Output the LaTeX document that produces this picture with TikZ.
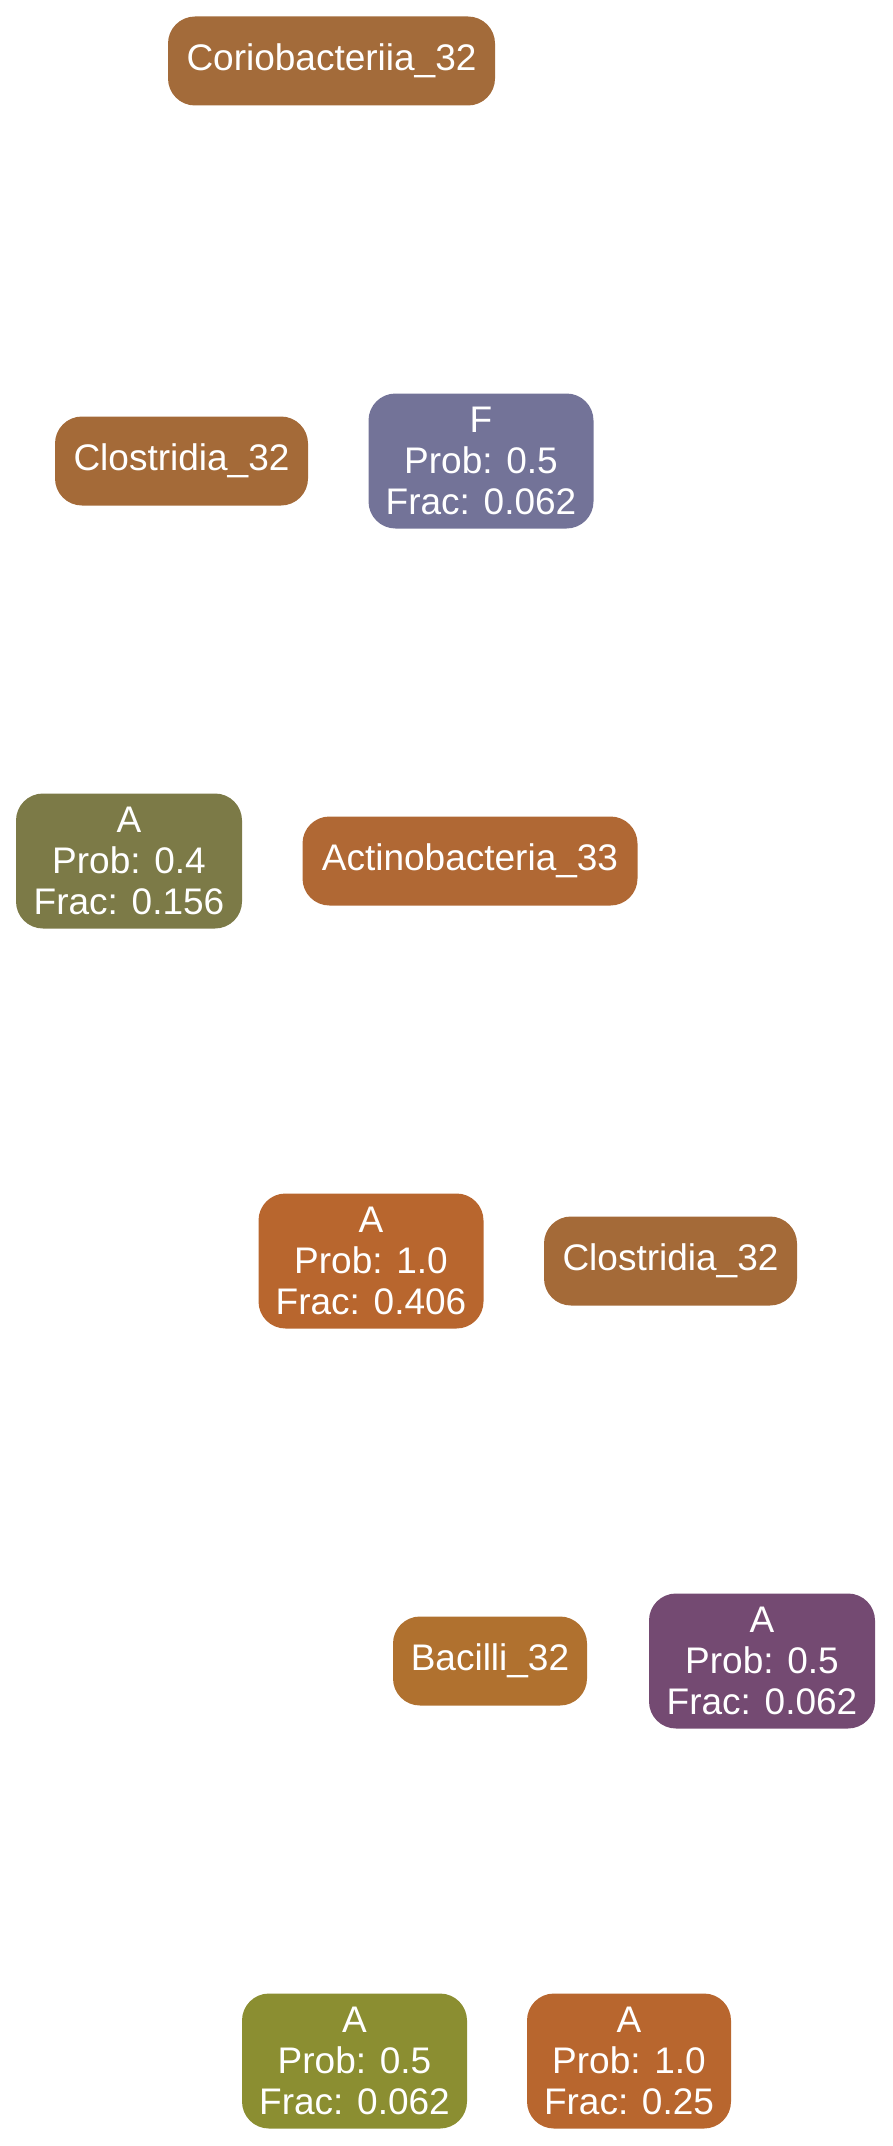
\documentclass[tikz,border=0pt]{standalone}
\usepackage{fontspec}
\setmainfont{Liberation Sans}
\definecolor{corio}{HTML}{A36B3A}
\definecolor{clost}{HTML}{A46A38}
\definecolor{slate}{HTML}{737398}
\definecolor{olive}{HTML}{7C7A47}
\definecolor{actino}{HTML}{B06834}
\definecolor{rust}{HTML}{B8662E}
\definecolor{bacil}{HTML}{B0712F}
\definecolor{plum}{HTML}{744A72}
\definecolor{moss}{HTML}{8B8E31}

\begin{document}
\begin{tikzpicture}[x=1pt, y=-1pt,
  taxon/.style={rectangle, rounded corners=27pt, inner sep=0pt,
                minimum height=89pt, text=white, align=center,
                font=\fontsize{37}{41}\selectfont},
  pick/.style={taxon, minimum height=135pt},
]
  \path[use as bounding box] (0,0) rectangle (892,2146);

  \node[taxon, fill=corio, minimum width=327pt] (cor) at (331.5,61) {Coriobacteriia\_32};

  \node[taxon, fill=clost, minimum width=253pt] (clo1) at (181.5,461) {Clostridia\_32};
  \node[pick, fill=slate, minimum width=225pt] (f1) at (481,461) {F\\Prob: 0.5\\Frac: 0.062};

  \node[pick, fill=olive, minimum width=226pt] (a1) at (129,861) {A\\Prob: 0.4\\Frac: 0.156};
  \node[taxon, fill=actino, minimum width=335pt] (act) at (470,861) {Actinobacteria\_33};

  \node[pick, fill=rust, minimum width=225pt] (a2) at (371,1261) {A\\Prob: 1.0\\Frac: 0.406};
  \node[taxon, fill=clost, minimum width=253pt] (clo2) at (670.5,1261) {Clostridia\_32};

  \node[taxon, fill=bacil, minimum width=194pt] (bac) at (490,1661) {Bacilli\_32};
  \node[pick, fill=plum, minimum width=226pt] (a3) at (762,1661) {A\\Prob: 0.5\\Frac: 0.062};

  \node[pick, fill=moss, minimum width=225pt] (a4) at (354.5,2061) {A\\Prob: 0.5\\Frac: 0.062};
  \node[pick, fill=rust, minimum width=204pt] (a5) at (629,2061) {A\\Prob: 1.0\\Frac: 0.25};
\end{tikzpicture}
\end{document}
